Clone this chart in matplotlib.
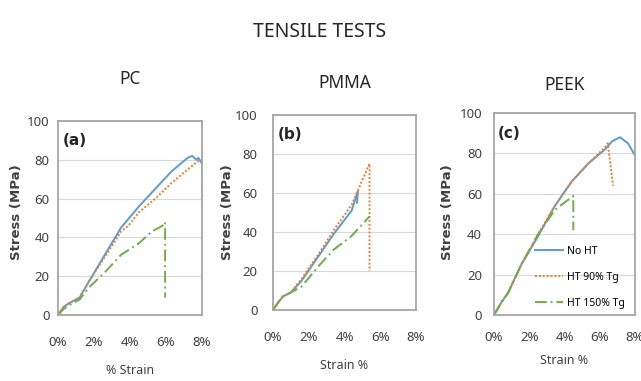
import matplotlib
matplotlib.use("Agg")
import matplotlib.pyplot as plt

# --- data (strain in %, stress in MPa) ---
pc_noht_x = [0, 0.3, 0.6, 1.2, 1.7, 2.6, 3.5, 4.5, 5.4, 6.3, 7.2, 7.45, 7.7, 7.8, 8.0, 8.0]
pc_noht_y = [0, 4, 6, 9, 17, 31, 45, 56, 65, 74, 81, 82, 80, 81, 78, 60]
pc_90_x = [0, 0.3, 0.6, 1.2, 1.7, 2.6, 3.5, 3.9, 4.5, 5.4, 6.3, 7.2, 7.6, 7.9]
pc_90_y = [0, 4, 6, 9, 17, 30, 43, 46, 53, 60, 68, 75, 78, 80]
pc_150_x = [0, 0.3, 0.6, 1.2, 1.7, 2.6, 3.5, 4.5, 5.2, 5.8, 5.95, 5.95]
pc_150_y = [0, 3, 5, 8, 14, 22, 31, 37, 43, 46, 48, 9]

pmma_noht_x = [0, 0.3, 0.56, 1.0, 1.6, 2.5, 3.4, 4.4, 4.75, 4.7]
pmma_noht_y = [0, 4, 7, 9, 15, 27, 39, 51, 61, 55]
pmma_90_x = [0, 0.3, 0.56, 1.0, 1.6, 2.5, 3.4, 4.4, 5.3, 5.4, 5.4]
pmma_90_y = [0, 4, 7, 9, 16, 28, 41, 54, 73, 75, 20]
pmma_150_x = [0, 0.3, 0.56, 1.0, 1.6, 2.5, 3.4, 4.4, 5.3, 5.4]
pmma_150_y = [0, 4, 7, 9, 12, 22, 31, 38, 47, 48]

peek_noht_x = [0, 0.4, 0.8, 1.55, 2.5, 3.45, 4.4, 5.35, 6.3, 6.7, 7.15, 7.6, 8.0]
peek_noht_y = [0, 6, 11, 25, 39, 54, 66, 75, 82, 86, 88, 85, 79]
peek_90_x = [0, 0.4, 0.8, 1.55, 2.5, 3.45, 4.4, 5.35, 6.3, 6.45, 6.6, 6.75]
peek_90_y = [0, 6, 11, 25, 40, 54, 66, 75, 83, 85, 75, 64]
peek_150_x = [0, 0.4, 0.8, 1.55, 2.5, 3.45, 4.2, 4.45, 4.5, 4.5]
peek_150_y = [0, 6, 11, 25, 40, 52, 57, 58, 59, 42]

series_names = ["No HT", "HT 90% Tg", "HT 150% Tg"]
x_ticks = [0, 2, 4, 6, 8]
y_ticks = [0, 20, 40, 60, 80, 100]

FAM = ["Noto Sans", "DejaVu Sans"]
colors = ["#5B9BD5", "#ED7D31", "#70AD47"]
styles = ["-", (0, (1, 1)), (0, (6, 2, 1, 2))]
TXT = "#404040"

W, H = 641, 381
fig = plt.figure(figsize=(W / 100, H / 100), dpi=100)


def box(left, right, top, bottom):
    return [left / W, 1 - bottom / H, (right - left) / W, (bottom - top) / H]


panels = [
    dict(rect=box(58, 202, 121, 315), name="PC", tag="(a)", xlabel="% Strain",
         data=[(pc_noht_x, pc_noht_y), (pc_90_x, pc_90_y), (pc_150_x, pc_150_y)],
         ypad=6, xpad=15, lpad=11, ylab_x=17, title_y=79),
    dict(rect=box(273, 416, 115, 310), name="PMMA", tag="(b)", xlabel="Strain %",
         data=[(pmma_noht_x, pmma_noht_y), (pmma_90_x, pmma_90_y), (pmma_150_x, pmma_150_y)],
         ypad=11, xpad=15, lpad=11, ylab_x=228, title_y=83),
    dict(rect=box(494, 635, 113, 315), name="PEEK", tag="(c)", xlabel="Strain %",
         data=[(peek_noht_x, peek_noht_y), (peek_90_x, peek_90_y), (peek_150_x, peek_150_y)],
         ypad=8.5, xpad=11.5, lpad=7.5, ylab_x=448, title_y=85),
]

for i, p in enumerate(panels):
    ax = fig.add_axes(p["rect"])
    for (xs, ys), c, ls, lab in zip(p["data"], colors, styles, series_names):
        ax.plot(xs, ys, color=c, linestyle=ls, lw=1.4, label=lab)
    ax.set_xlim(0, 8)
    ax.set_ylim(0, 100)
    ax.set_xticks(x_ticks)
    ax.set_xticklabels([f"{t}%" for t in x_ticks], family=FAM, fontsize=9.5, color=TXT)
    ax.set_yticks(y_ticks)
    ax.set_yticklabels([str(t) for t in y_ticks], family=FAM, fontsize=9.5, color=TXT)
    ax.tick_params(axis="y", length=0, pad=p["ypad"])
    ax.tick_params(axis="x", length=0, pad=p["xpad"])
    ax.grid(True, axis="y", color="#d9d9d9", lw=0.8)
    ax.set_axisbelow(True)
    for s in ax.spines.values():
        s.set_color("#a6a6a6")
        s.set_linewidth(1.3)
    ax.set_xlabel(p["xlabel"], family=FAM, fontsize=9, color=TXT, labelpad=p["lpad"])
    ax.text(0.03, 0.90, p["tag"], transform=ax.transAxes, family="DejaVu Sans",
            fontsize=11, fontweight="bold", va="center", ha="left", color="#262626")
    fig.text(p["ylab_x"] / W, 1 - 212 / H, "Stress (MPa)", rotation=90, ha="center",
             va="center", fontsize=9.5, fontweight="bold", color=TXT)
    cx = p["rect"][0] + p["rect"][2] / 2
    fig.text(cx, 1 - p["title_y"] / H, p["name"], ha="center", va="center",
             family=FAM, fontsize=12.5, color="#262626")
    if i == 2:
        ax.legend(loc="lower left", bbox_to_anchor=(0.29, 0.03), frameon=False,
                  prop={"family": FAM, "size": 7.5},
                  handlelength=2.7, labelspacing=1.45, handletextpad=0.35,
                  borderpad=0, borderaxespad=0)

fig.text(320 / W, 1 - 32 / H, "TENSILE TESTS", ha="center", va="center",
         family=FAM, fontsize=14, color="#262626")

fig.savefig("out.png", dpi=100)
